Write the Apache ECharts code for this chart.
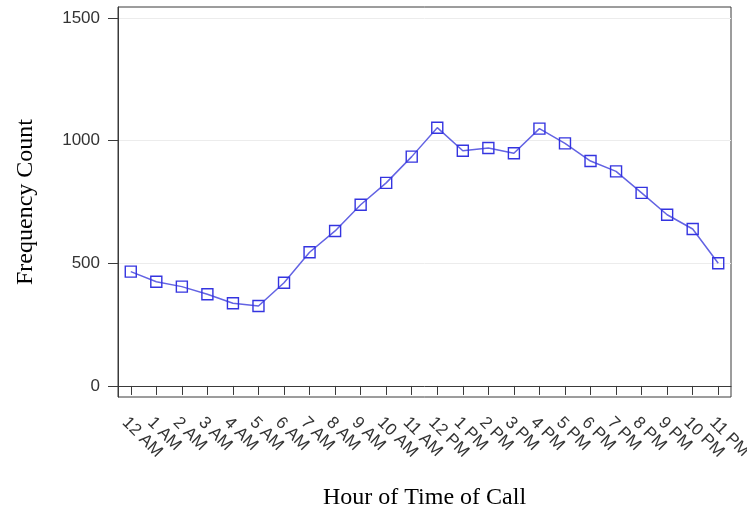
<!DOCTYPE html>
<html>
<head>
<meta charset="utf-8">
<script src="https://cdn.jsdelivr.net/npm/echarts@6/dist/echarts.min.js"></script>
<style>
  html, body { margin: 0; padding: 0; background: #fff; }
  #chart { width: 747px; height: 510px; }
</style>
</head>
<body>
<div id="chart"></div>
<script>
// hours of the day, as the axis shows them
const hours = ['12 AM', '1 AM', '2 AM', '3 AM', '4 AM', '5 AM', '6 AM', '7 AM', '8 AM', '9 AM', '10 AM', '11 AM',
  '12 PM', '1 PM', '2 PM', '3 PM', '4 PM', '5 PM', '6 PM', '7 PM', '8 PM', '9 PM', '10 PM', '11 PM'];

// frequency count of calls per hour
const counts = [466, 425, 405, 374, 337, 326, 421, 545, 632, 739, 828, 935,
  1053, 959, 970, 949, 1049, 989, 917, 875, 787, 698, 640, 500];

const yTicks = [0, 500, 1000, 1500];

let chart = echarts.init(document.getElementById('chart'), null, { renderer: 'canvas' });

chart.setOption({
  animation: false,
  grid: {
    left: 118, right: 16, top: 7, bottom: 113,
    outerBoundsMode: 'none',
    containLabel: false,
    show: true, borderColor: '#3a3a3a', borderWidth: 1, backgroundColor: 'transparent'
  },
  xAxis: {
    type: 'category',
    data: hours,
    boundaryGap: true,
    name: 'Hour of Time of Call',
    nameLocation: 'middle',
    nameGap: 89,
    nameTextStyle: { fontFamily: 'Liberation Serif', fontSize: 24, color: '#000' },
    axisLine: { show: true, lineStyle: { color: '#3a3a3a' } },
    axisTick: { show: true, alignWithLabel: true, length: 9, lineStyle: { color: '#3a3a3a' } },
    axisLabel: {
      interval: 0, rotate: -45, margin: 17, verticalAlign: 'top',
      fontFamily: 'Liberation Sans', fontSize: 17, color: '#333'
    },
    splitLine: { show: false }
  },
  yAxis: {
    type: 'value',
    min: -45, max: 1545,
    name: 'Frequency Count',
    nameLocation: 'middle',
    nameGap: 80,
    nameTextStyle: { fontFamily: 'Liberation Serif', fontSize: 24, color: '#000' },
    axisLine: { show: true, lineStyle: { color: '#3a3a3a' } },
    axisTick: { show: true, length: 10, customValues: yTicks, lineStyle: { color: '#3a3a3a' } },
    axisLabel: {
      customValues: yTicks, margin: 18,
      formatter: v => String(v),
      fontFamily: 'Liberation Sans', fontSize: 17, color: '#333'
    },
    splitLine: { show: true, lineStyle: { color: '#ececec', width: 1 } }
  },
  series: [{
    type: 'line',
    data: counts,
    symbol: 'rect',
    symbolSize: 11,
    lineStyle: { color: '#6363e3', width: 1.5 },
    itemStyle: { color: 'rgba(0,0,0,0)', borderColor: '#3434e0', borderWidth: 1.4 }
  }]
});
</script>
</body>
</html>
